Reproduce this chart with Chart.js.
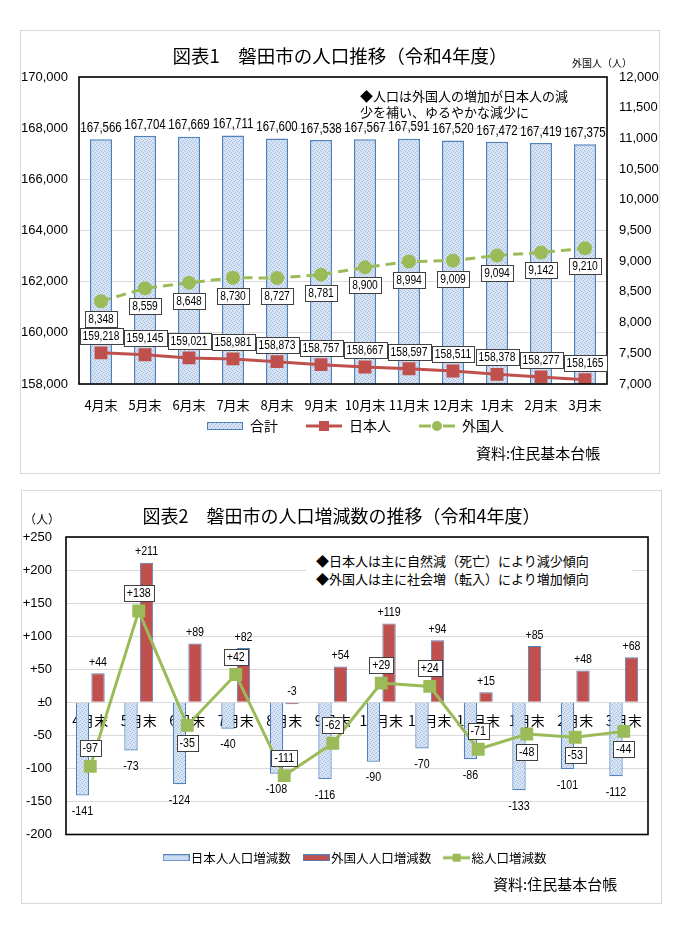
<!DOCTYPE html>
<html lang="ja">
<head>
<meta charset="utf-8">
<title>磐田市の人口推移（令和4年度）</title>
<script src="https://cdn.jsdelivr.net/npm/chart.js@4.4.1/dist/chart.umd.min.js"></script>
<style>
  body { margin: 0; background: #fff; width: 690px; height: 939px; position: relative; overflow: hidden;
         font-family: 'Noto Sans CJK JP', sans-serif; color: #000; }
  .panel { position: absolute; border: 1px solid #d9d9d9; box-sizing: border-box; background: #fff; }
  .txt { position: absolute; white-space: nowrap; }
  canvas { position: absolute; }
</style>
</head>
<body>
<div class="panel" style="left:20px;top:30px;width:640px;height:444px;"></div>
<div class="panel" style="left:21px;top:490px;width:641px;height:414px;"></div>

<canvas id="chart1" width="638" height="442" style="left:21px;top:31px;"></canvas>
<canvas id="chart2" width="638" height="411" style="left:22px;top:491px;"></canvas>

<!-- chart 1 texts -->
<div class="txt" style="left:21px;width:638px;top:42px;text-align:center;font-size:18.5px;line-height:26px;">図表1　磐田市の人口推移（令和4年度）</div>
<div class="txt" style="left:572px;top:56px;font-size:10px;line-height:14px;">外国人（人）</div>
<div class="txt" style="left:360px;top:88px;font-size:13px;line-height:16px;">◆人口は外国人の増加が日本人の減<br>少を補い、ゆるやかな減少に</div>
<div class="txt" style="left:476px;top:442px;font-size:15px;line-height:22px;">資料:住民基本台帳</div>

<!-- chart 2 texts -->
<div class="txt" style="left:21px;width:641px;top:502px;text-align:center;font-size:18px;line-height:26px;">図表2　磐田市の人口増減数の推移（令和4年度）</div>
<div class="txt" style="left:24px;top:511px;font-size:12px;line-height:16px;">（人）</div>
<div class="txt" style="left:306px;top:550px;width:316px;height:40px;padding-left:10px;padding-top:2px;background:#fff;font-size:13px;line-height:18px;">◆日本人は主に自然減（死亡）により減少傾向<br>◆外国人は主に社会増（転入）により増加傾向</div>
<div class="txt" style="left:493px;top:873px;font-size:15px;line-height:22px;">資料:住民基本台帳</div>

<script>
// 図表1 人口推移
var months = ['4月末', '5月末', '6月末', '7月末', '8月末', '9月末', '10月末', '11月末', '12月末', '1月末', '2月末', '3月末'];
var totalPop = [167566, 167704, 167669, 167711, 167600, 167538, 167567, 167591, 167520, 167472, 167419, 167375];
var japanesePop = [159218, 159145, 159021, 158981, 158873, 158757, 158667, 158597, 158511, 158378, 158277, 158165];
var foreignPop = [8348, 8559, 8648, 8730, 8727, 8781, 8900, 8994, 9009, 9094, 9142, 9210];
var leftAxis = { min: 158000, max: 170000, step: 2000 };
var rightAxis = { min: 7000, max: 12000, step: 500 };

// 図表2 人口増減数
var japaneseChange = [-141, -73, -124, -40, -108, -116, -90, -70, -86, -133, -101, -112];
var foreignChange = [44, 211, 89, 82, -3, 54, 119, 94, 15, 85, 48, 68];
var totalChange = [-97, 138, -35, 42, -111, -62, 29, 24, -71, -48, -53, -44];
var changeAxis = { min: -200, max: 250, step: 50 };

var jpFont = "'Noto Sans CJK JP', sans-serif";
var numFont = "'Liberation Sans', Arial, sans-serif";
Chart.defaults.font.family = jpFont;
Chart.defaults.color = '#000';

function fmt(v) {
  return String(v).replace(/\B(?=(\d{3})+(?!\d))/g, ',');
}
function signed(v) {
  if (v > 0) return '+' + v;
  if (v == 0) return '±0';
  return String(v);
}

// dotted light blue fill like the excel bars
function patternTile() {
  var c = document.createElement('canvas');
  c.width = 4; c.height = 4;
  var g = c.getContext('2d');
  g.fillStyle = '#d8e4f4';
  g.fillRect(0, 0, 4, 4);
  g.fillStyle = '#a6c1e4';
  g.fillRect(0, 0, 1, 1);
  g.fillRect(2, 1, 1, 1);
  g.fillRect(1, 2, 1, 1);
  g.fillRect(3, 3, 1, 1);
  return c;
}
var tile = patternTile();

// legend icons: lead = blank space on the left used as gap between items
function barIcon(fill, border, w, h, lead) {
  lead = lead || 0;
  var c = document.createElement('canvas');
  c.width = w + lead; c.height = h;
  var g = c.getContext('2d');
  g.fillStyle = fill == 'pattern' ? g.createPattern(tile, 'repeat') : fill;
  g.fillRect(lead, 0, w, h);
  g.strokeStyle = border;
  g.lineWidth = 1;
  g.strokeRect(lead + 0.5, 0.5, w - 1, h - 1);
  return c;
}
function lineIcon(color, w, marker, size, gap, lead) {
  lead = lead || 0;
  var c = document.createElement('canvas');
  c.width = w + lead; c.height = 12;
  var g = c.getContext('2d');
  var mid = lead + w / 2;
  g.strokeStyle = color;
  g.fillStyle = color;
  g.lineWidth = 3;
  g.beginPath();
  if (gap) {
    g.moveTo(lead, 6); g.lineTo(mid - gap, 6);
    g.moveTo(mid + gap, 6); g.lineTo(lead + w, 6);
  } else {
    g.moveTo(lead, 6); g.lineTo(lead + w, 6);
  }
  g.stroke();
  if (marker == 'rect') {
    g.fillRect(mid - size / 2, 6 - size / 2, size, size);
  } else {
    g.beginPath();
    g.arc(mid, 6, size / 2, 0, Math.PI * 2);
    g.fill();
  }
  return c;
}

// condensed numbers (the original uses a narrow font)
var squeeze = 0.82;
function narrowText(ctx, text, x, y) {
  ctx.save();
  ctx.translate(x, y);
  ctx.scale(squeeze, 1);
  ctx.fillText(text, 0, 0);
  ctx.restore();
}
function boxLabel(ctx, text, x, y) {
  var w = Math.round(ctx.measureText(text).width * squeeze + 6);
  var h = 16;
  var left = Math.round(x - w / 2), top = Math.round(y - h / 2);
  ctx.fillStyle = '#fff';
  ctx.fillRect(left, top, w, h);
  ctx.strokeStyle = '#404040';
  ctx.lineWidth = 1;
  ctx.strokeRect(left + 0.5, top + 0.5, w, h);
  ctx.fillStyle = '#000';
  narrowText(ctx, text, x, y + 0.5);
}

function legendWithIcons(icons) {
  return function (chart) {
    var items = Chart.defaults.plugins.legend.labels.generateLabels(chart);
    items.sort(function (a, b) { return a.datasetIndex - b.datasetIndex; });
    items.forEach(function (it) { it.pointStyle = icons[it.datasetIndex]; });
    return items;
  };
}

var framePlugin = {
  id: 'frame',
  afterDatasetsDraw: function (chart) {
    var a = chart.chartArea, ctx = chart.ctx;
    ctx.save();
    ctx.strokeStyle = '#000';
    ctx.lineWidth = 1.6;
    ctx.strokeRect(a.left, a.top, a.right - a.left, a.bottom - a.top);
    ctx.restore();
  }
};

// ---------- chart 1 ----------
var labels1 = {
  id: 'labels1',
  afterDatasetsDraw: function (chart) {
    var ctx = chart.ctx;
    var bars = chart.getDatasetMeta(0).data;
    var jp = chart.getDatasetMeta(1).data;
    var fr = chart.getDatasetMeta(2).data;
    ctx.save();
    ctx.textAlign = 'center';
    ctx.textBaseline = 'middle';
    for (var i = 0; i < bars.length; i++) {
      ctx.font = '14px ' + numFont;
      ctx.fillStyle = '#000';
      narrowText(ctx, fmt(totalPop[i]), bars[i].x, bars[i].y - 11);
      ctx.font = '12.5px ' + numFont;
      boxLabel(ctx, fmt(japanesePop[i]), jp[i].x, jp[i].y - 17);
      boxLabel(ctx, fmt(foreignPop[i]), fr[i].x, fr[i].y + 18);
    }
    ctx.restore();
  }
};

var ctx1 = document.getElementById('chart1').getContext('2d');
var icons1 = [
  barIcon('pattern', '#4f81bd', 36, 8, 25),
  lineIcon('#c0504d', 36, 'rect', 10, 0, 25),
  lineIcon('#9bbb59', 36, 'circle', 10, 6, 25)
];

var chart1 = new Chart(ctx1, {
  type: 'bar',
  data: {
    labels: months,
    datasets: [
      {
        type: 'bar',
        label: '合計',
        data: totalPop,
        yAxisID: 'y',
        backgroundColor: ctx1.createPattern(tile, 'repeat'),
        borderColor: '#4f81bd',
        borderWidth: 1.5,
        categoryPercentage: 1,
        barPercentage: 0.5,
        order: 2
      },
      {
        type: 'line',
        label: '日本人',
        data: japanesePop,
        yAxisID: 'y',
        borderColor: '#c0504d',
        backgroundColor: '#c0504d',
        borderWidth: 3,
        pointStyle: 'rect',
        pointRadius: 7,
        tension: 0,
        order: 1
      },
      {
        type: 'line',
        label: '外国人',
        data: foreignPop,
        yAxisID: 'y1',
        borderColor: '#9bbb59',
        backgroundColor: '#9bbb59',
        borderWidth: 3,
        borderDash: [10, 6],
        pointStyle: 'circle',
        pointRadius: 5.5,
        tension: 0,
        order: 1
      }
    ]
  },
  options: {
    responsive: false,
    animation: false,
    layout: { padding: { top: 46, left: 0, right: 0, bottom: 30 } },
    scales: {
      x: {
        grid: { display: false },
        border: { display: false },
        ticks: { padding: 5, autoSkip: false, maxRotation: 0, color: '#000', font: { size: 13 } },
        afterFit: function (s) { s.height = 32; }
      },
      y: {
        position: 'left',
        min: leftAxis.min,
        max: leftAxis.max,
        grid: { color: '#d9d9d9', drawTicks: false },
        border: { display: false },
        ticks: { stepSize: leftAxis.step, padding: 11, color: '#000', font: { family: numFont, size: 13 }, callback: fmt },
        afterFit: function (s) { s.width = 58; }
      },
      y1: {
        position: 'right',
        min: rightAxis.min,
        max: rightAxis.max,
        grid: { display: false, drawTicks: false },
        border: { display: false },
        ticks: { stepSize: rightAxis.step, padding: 12, color: '#000', font: { family: numFont, size: 13 }, callback: fmt },
        afterFit: function (s) { s.width = 52; }
      }
    },
    plugins: {
      legend: {
        position: 'bottom',
        fullSize: false,
        labels: {
          usePointStyle: true,
          pointStyleWidth: 61,
          padding: 3,
          color: '#000',
          font: { size: 14 },
          generateLabels: legendWithIcons(icons1)
        }
      },
      tooltip: { enabled: false }
    }
  },
  plugins: [framePlugin, labels1]
});

// ---------- chart 2 ----------
// which total-change boxes sit under their point
var totalLabelBelow = [false, false, true, false, false, false, false, false, false, true, true, true];

var labels2 = {
  id: 'labels2',
  afterDatasetsDraw: function (chart) {
    var ctx = chart.ctx;
    var jp = chart.getDatasetMeta(0).data;
    var fr = chart.getDatasetMeta(1).data;
    var tot = chart.getDatasetMeta(2).data;
    var zero = chart.scales.y.getPixelForValue(0);
    ctx.save();
    ctx.textAlign = 'center';
    ctx.textBaseline = 'middle';
    ctx.font = '13px ' + numFont;
    for (var i = 0; i < jp.length; i++) {
      ctx.fillStyle = '#000';
      narrowText(ctx, signed(japaneseChange[i]), jp[i].x, jp[i].y + 16);
      narrowText(ctx, signed(foreignChange[i]), fr[i].x, Math.min(fr[i].y, zero) - 11);
      boxLabel(ctx, signed(totalChange[i]), tot[i].x, tot[i].y + (totalLabelBelow[i] ? 18 : -18));
    }
    ctx.restore();
  }
};

var ctx2 = document.getElementById('chart2').getContext('2d');
// icons wider than the legend box so the gap to the text stays small
var icons2 = [
  barIcon('pattern', '#4f81bd', 27, 7),
  barIcon('#c0504d', '#4f81bd', 27, 7),
  lineIcon('#9bbb59', 27, 'rect', 8)
];

var chart2 = new Chart(ctx2, {
  type: 'bar',
  data: {
    labels: months,
    datasets: [
      {
        label: '日本人人口増減数',
        data: japaneseChange,
        backgroundColor: ctx2.createPattern(tile, 'repeat'),
        borderColor: '#4f81bd',
        borderWidth: 1.2,
        categoryPercentage: 0.64,
        barPercentage: 0.86,
        order: 1
      },
      {
        label: '外国人人口増減数',
        data: foreignChange,
        backgroundColor: '#c0504d',
        borderColor: '#4f81bd',
        borderWidth: 1,
        categoryPercentage: 0.64,
        barPercentage: 0.86,
        order: 1
      },
      {
        type: 'line',
        label: '総人口増減数',
        data: totalChange,
        borderColor: '#9bbb59',
        backgroundColor: '#9bbb59',
        borderWidth: 3,
        pointStyle: 'rect',
        pointRadius: 7,
        tension: 0,
        order: 0
      }
    ]
  },
  options: {
    responsive: false,
    animation: false,
    layout: { padding: { top: 46, left: 0, right: 12, bottom: 28 } },
    scales: {
      x: {
        position: { y: 0 },
        z: 1,
        grid: { display: false },
        border: { display: false },
        ticks: { padding: 2, autoSkip: false, maxRotation: 0, color: '#000', font: { size: 14 } },
        afterFit: function (s) { s.height = 0; }
      },
      y: {
        min: changeAxis.min,
        max: changeAxis.max,
        grid: { color: '#d9d9d9', drawTicks: false },
        border: { display: false },
        ticks: { stepSize: changeAxis.step, padding: 14, color: '#000', font: { family: numFont, size: 13 }, callback: signed },
        afterFit: function (s) { s.width = 44; }
      }
    },
    plugins: {
      legend: {
        position: 'bottom',
        fullSize: false,
        labels: {
          usePointStyle: true,
          pointStyleWidth: 17,
          padding: 17,
          color: '#000',
          font: { size: 12.5 },
          generateLabels: legendWithIcons(icons2)
        }
      },
      tooltip: { enabled: false }
    }
  },
  plugins: [framePlugin, labels2]
});
</script>
</body>
</html>
